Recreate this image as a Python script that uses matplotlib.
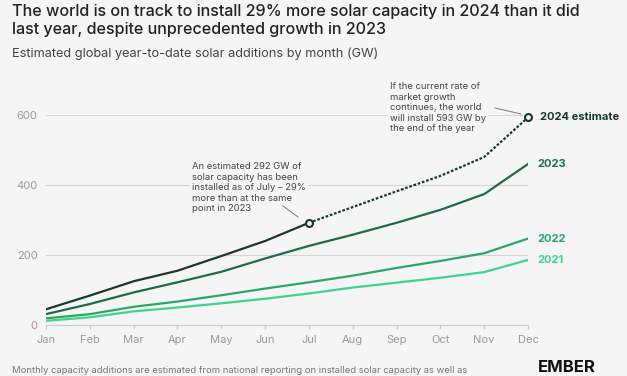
import matplotlib
matplotlib.use("Agg")
import matplotlib.pyplot as plt

months = ["Jan", "Feb", "Mar", "Apr", "May", "Jun", "Jul", "Aug", "Sep", "Oct", "Nov", "Dec"]
y2021 = [12, 22, 39, 50, 62, 75, 90, 107, 121, 135, 151, 186]
y2022 = [19, 31, 52, 67, 85, 104, 122, 141, 163, 183, 205, 247]
y2023 = [31, 60, 93, 122, 152, 190, 226, 258, 292, 329, 374, 460]
y2024_actual = [45, 84, 125, 155, 197, 240, 292]
y2024_estimate = [292, 337, 382, 426, 480, 593]
yticks = [0, 200, 400, 600]

BG = "#f5f5f5"
C2024 = "#183a2b"
C2023 = "#1f6b45"
C2022 = "#2aa862"
C2021 = "#3fd488"
GRAY = "#999999"

plt.rcParams['font.family'] = ['Inter', 'DejaVu Sans']

fig = plt.figure(figsize=(6.27, 3.76), dpi=100, facecolor=BG)
W, H = 627, 376
ax = fig.add_axes([46 / W, 1 - 325 / H, (528 - 46) / W, (325 - 115) / H])
ax.set_facecolor(BG)

x = list(range(len(months)))
ax.plot(x, y2021, color=C2021, lw=1.6, zorder=3)
ax.plot(x, y2022, color=C2022, lw=1.6, zorder=3)
ax.plot(x, y2023, color=C2023, lw=1.6, zorder=3)
ax.plot(x[:7], y2024_actual, color=C2024, lw=1.6, zorder=4)
ax.plot(x[6:], y2024_estimate, color=C2024, lw=1.6, ls=(0, (1.2, 0.8)), zorder=4)
ax.plot([x[6], x[11]], [y2024_actual[-1], y2024_estimate[-1]], 'o', ms=5,
        mfc=BG, mec=C2024, mew=1.5, zorder=5, clip_on=False)

ax.set_xlim(0, 11)
ax.set_ylim(0, 600)
ax.set_yticks(yticks)
ax.set_yticklabels([str(v) for v in yticks])
ax.set_xticks(x)
ax.set_xticklabels(months)
for s in ["top", "right", "left"]:
    ax.spines[s].set_visible(False)
ax.spines["bottom"].set_color("#cccccc")
ax.tick_params(axis='x', colors="#cccccc", labelcolor=GRAY, labelsize=8, length=3, pad=4)
ax.tick_params(axis='y', length=0, labelcolor=GRAY, labelsize=8, pad=6)
for v in yticks[1:]:
    ax.axhline(v, color="#d5d5d5", lw=0.8, zorder=1)

# series labels
lab_kw = dict(fontsize=8, fontweight='bold', va='center', ha='left', clip_on=False)
ax.annotate("2024 estimate", (11, y2024_estimate[-1]), xytext=(9, 0), textcoords='offset points', color=C2024, **lab_kw)
ax.annotate("2023", (11, y2023[-1]), xytext=(7, 0), textcoords='offset points', color=C2023, **lab_kw)
ax.annotate("2022", (11, 247), xytext=(7, 0), textcoords='offset points', color=C2022, **lab_kw)
ax.annotate("2021", (11, 186), xytext=(7, 0), textcoords='offset points', color=C2021, **lab_kw)

# annotations
ann_kw = dict(fontsize=6.8, color="#444444", ha='left', va='top', linespacing=1.22,
              bbox=dict(facecolor=BG, edgecolor='none', pad=1.5))
fig.text(192 / W, 1 - 162 / H,
         "An estimated 292 GW of\nsolar capacity has been\ninstalled as of July – 29%\nmore than at the same\npoint in 2023",
         **ann_kw)
fig.text(390 / W, 1 - 82 / H,
         "If the current rate of\nmarket growth\ncontinues, the world\nwill install 593 GW by\nthe end of the year",
         **ann_kw)
fig.add_artist(plt.Line2D([283 / W, 298 / W], [1 - 206 / H, 1 - 217 / H], color="#777777", lw=0.7, zorder=10))
fig.add_artist(plt.Line2D([495 / W, 521 / W], [1 - 108 / H, 1 - 114 / H], color="#777777", lw=0.7, zorder=10))

# titles
fig.text(12 / W, 1 - 4 / H,
         "The world is on track to install 29% more solar capacity in 2024 than it did\nlast year, despite unprecedented growth in 2023",
         fontsize=11.6, fontweight='medium', color="#222222", ha='left', va='top', linespacing=1.25)
fig.text(12 / W, 1 - 48 / H, "Estimated global year-to-date solar additions by month (GW)",
         fontsize=9.2, color="#444444", ha='left', va='top')
fig.text(12 / W, 1 - 375 / H,
         "Monthly capacity additions are estimated from national reporting on installed solar capacity as well as",
         fontsize=6.8, color="#777777", ha='left', va='bottom')
fig.text(538 / W, 1 - 375 / H, "EMBER", fontsize=12, fontweight='bold', color="#111111", ha='left', va='bottom')

fig.savefig("out.png", dpi=100, facecolor=BG)
